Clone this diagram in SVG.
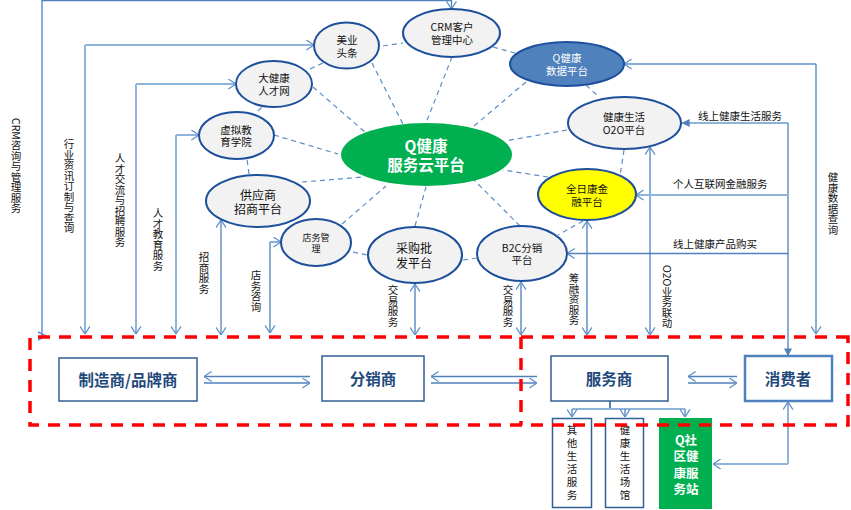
<svg xmlns="http://www.w3.org/2000/svg" width="851" height="510" viewBox="0 0 851 510">
<style>
text{font-family:"Noto Sans CJK SC","Noto Sans",sans-serif;fill:#111;text-anchor:middle;dominant-baseline:central;font-size:10.5px}
.v{writing-mode:vertical-rl;text-anchor:start;dominant-baseline:auto}
.st{letter-spacing:2.4px}
.h{text-anchor:start}
.n{fill:#f2f2f2;stroke:#1c4f9c;stroke-width:2}
.w{fill:#fff;font-weight:700}
.b{fill:#fff;stroke:#2f5f93;stroke-width:1.5}
.t{fill:#1f497d;font-weight:700;font-size:15.5px}
.s{fill:none;stroke:#5b8cc4;stroke-width:1.2;stroke-dasharray:5 4}
.a{fill:none;stroke:#5f90c8;stroke-width:1.5}
.l{fill:none;stroke:#8fb4dc;stroke-width:2}
.d{fill:none;stroke:#4f81bd;stroke-width:1.3}
.c{marker-end:url(#o)}
.cc{marker-start:url(#o);marker-end:url(#o)}
</style>
<defs>
<marker id="o" viewBox="0 0 10 12" refX="9.5" refY="6" markerWidth="9" markerHeight="11" markerUnits="userSpaceOnUse" orient="auto-start-reverse"><path d="M1,0.5 L9.5,6 L1,11.5" fill="none" stroke="#5f90c8" stroke-width="1.4"/></marker>
<marker id="f" viewBox="0 0 10 10" refX="9.5" refY="5" markerWidth="8" markerHeight="8" markerUnits="userSpaceOnUse" orient="auto"><path d="M0,0 L10,5 L0,10 Z" fill="#4f81bd"/></marker>
</defs>
<g id="connectors">
<g class="spokes">
<path class="s" d="M452,57L426,123M372,63L407,132M313,87L365,132M274,135L338,154M302,182L363,177M342,224L386,186M415,226L426,187M520,226L468,174M548,177L503,170M567,130L505,141M526,82L474,126"/>
<path class="s" d="M383,46L403,43M493,47L515,53M586,85L598,96M624,150L620,176M583,221L558,235M463,260L477,258M353,252L367,255M249,174L247,159M258,111L262,107M310,69L323,63"/>
</g>
<path class="d c" d="M42,336V0.5H451.5V9" stroke-width="1.6"/>
<path class="a" d="M38,332L46,336L38,340"/>
<path class="l c" d="M85,45H314"/><path class="l c" d="M85,45V334"/>
<path class="l c" d="M136,84H236"/><path class="l c" d="M136,84V334"/>
<path class="l c" d="M176,135H199"/><path class="l c" d="M176,135V334"/>
<path class="d cc" d="M221,220V335"/>
<path class="a c" d="M270,242H281"/><path class="a c" d="M270,242V333"/>
<path class="a cc" d="M415,284V335"/>
<path class="a cc" d="M521,282V335"/>
<path class="a cc" d="M587,221V335"/>
<path class="d cc" d="M650,147V335"/>
<path class="l" d="M788,123H682" marker-end="url(#f)"/>
<path class="d" d="M788,123V356" stroke-width="2.2" marker-end="url(#f)"/>
<path class="l c" d="M788,195H636"/>
<path class="d c" d="M788,253.5H567"/>
<path class="a c" d="M816,64H624"/><path class="d c" d="M816,64V334"/>
<path class="d c" d="M310,376.5H204"/><path class="d c" d="M204,383H310"/>
<path class="d c" d="M537,376.5H431"/><path class="d c" d="M431,383H537"/>
<path class="d c" d="M737,376.5H688"/><path class="d c" d="M688,383H737"/>
<path d="M610,401V409" fill="none" stroke="#4f81bd" stroke-width="2"/>
<path class="l" d="M572,409H685"/>
<path class="a c" d="M572,409V417"/><path class="a c" d="M625,409V417"/><path class="a c" d="M685,409V417"/>
<path class="l" d="M788,464V402" marker-end="url(#o)"/><path class="l" d="M788,464H713" marker-end="url(#o)"/>
<g id="connector-labels">
<text class="v" x="16" y="118">CRM咨询与管理服务</text>
<text class="v" x="69" y="139">行业资讯订制与查询</text>
<text class="v" x="120" y="153">人才交流与招聘服务</text>
<text class="v" x="158" y="208">人才教育服务</text>
<text class="v" x="204" y="252">招商服务</text>
<text class="v" x="256" y="270">店务咨询</text>
<text class="v" x="393" y="285">交易服务</text>
<text class="v" x="508" y="285">交易服务</text>
<text class="v" x="574" y="273">筹融资服务</text>
<text class="v" x="667" y="265">O2O业务联动</text>
<text class="v" x="833" y="172">健康数据查询</text>
<text class="h" x="698" y="115">线上健康生活服务</text>
<text class="h" x="673" y="183">个人互联网金融服务</text>
<text class="h" x="673" y="243">线上健康产品购买</text>
</g>
</g>
<g id="meiye"><ellipse class="n" cx="346.5" cy="45.5" rx="32.5" ry="23"/><text><tspan x="347" y="39">美业</tspan><tspan x="347" y="52">头条</tspan></text></g>
<g id="crm"><ellipse class="n" cx="451.5" cy="33" rx="48.5" ry="24"/><text><tspan x="452" y="26">CRM客户</tspan><tspan x="452" y="39">管理中心</tspan></text></g>
<g id="data"><ellipse cx="567" cy="64" rx="57" ry="22" fill="#4f81bd" stroke="#1c4f9c" stroke-width="2"/><text style="fill:#fff"><tspan x="567" y="57">Q健康</tspan><tspan x="567" y="70">数据平台</tspan></text></g>
<g id="o2o"><ellipse class="n" cx="624.5" cy="123" rx="56.5" ry="26"/><text><tspan x="624" y="116">健康生活</tspan><tspan x="624" y="129">O2O平台</tspan></text></g>
<g id="finance"><ellipse cx="587" cy="194.5" rx="49" ry="25.5" fill="#ff0" stroke="#1c4f9c" stroke-width="2"/><text><tspan x="587" y="188">全日康金</tspan><tspan x="587" y="201">融平台</tspan></text></g>
<g id="b2c"><ellipse class="n" cx="522" cy="253.5" rx="45" ry="27.5"/><text><tspan x="522" y="247">B2C分销</tspan><tspan x="522" y="259">平台</tspan></text></g>
<g id="purchase"><ellipse class="n" cx="415" cy="255" rx="47" ry="28"/><text style="font-size:12px"><tspan x="414" y="247">采购批</tspan><tspan x="414" y="262">发平台</tspan></text></g>
<g id="store"><ellipse class="n" cx="316" cy="242.5" rx="35" ry="23.5"/><text style="font-size:9px"><tspan x="316" y="237">店务管</tspan><tspan x="316" y="248">理</tspan></text></g>
<g id="supplier"><ellipse class="n" cx="258" cy="201" rx="52" ry="26"/><text style="font-size:12px"><tspan x="258" y="194">供应商</tspan><tspan x="258" y="208">招商平台</tspan></text></g>
<g id="academy"><ellipse class="n" cx="236.5" cy="135.5" rx="37.5" ry="23.5"/><text><tspan x="236" y="129">虚拟教</tspan><tspan x="236" y="141">育学院</tspan></text></g>
<g id="talent"><ellipse class="n" cx="274" cy="84" rx="38" ry="23"/><text><tspan x="274" y="77">大健康</tspan><tspan x="274" y="90">人才网</tspan></text></g>
<g id="cloud"><ellipse cx="426.5" cy="154.5" rx="85.5" ry="31.5" fill="#00b050"/><text class="w" style="font-size:15.5px"><tspan x="426" y="145">Q健康</tspan><tspan x="426" y="164">服务云平台</tspan></text></g>
<g id="maker"><rect class="b" x="59" y="358" width="138" height="43"/><text class="t" x="128" y="379">制造商/品牌商</text></g>
<g id="distributor"><rect class="b" x="322" y="356" width="102" height="45"/><text class="t" x="373" y="378">分销商</text></g>
<g id="provider"><rect class="b" x="551" y="356" width="117" height="45"/><text class="t" x="609" y="378">服务商</text></g>
<g id="consumer"><rect x="745" y="356" width="87" height="45" fill="#fff" stroke="#4f81bd" stroke-width="2.5"/><text class="t" x="788" y="378">消费者</text></g>
<g id="other"><rect class="b" x="552.5" y="418.5" width="39" height="89"/><text class="v st" x="572" y="425">其他生活服务</text></g>
<g id="venue"><rect class="b" x="605.5" y="418.5" width="38" height="89"/><text class="v st" x="625" y="425">健康生活场馆</text></g>
<g id="station"><rect x="659" y="418" width="53" height="91" fill="#00b050"/><text class="w" style="font-size:12.5px"><tspan x="686" y="439">Q社</tspan><tspan x="686" y="455">区健</tspan><tspan x="686" y="472">康服</tspan><tspan x="686" y="488">务站</tspan></text></g>
<g id="regions" fill="none" stroke="#f00" stroke-width="3.5" stroke-dasharray="12 9">
<path d="M848,337H30V425H848Z"/>
<path d="M521,337V425"/>
</g>
</svg>
